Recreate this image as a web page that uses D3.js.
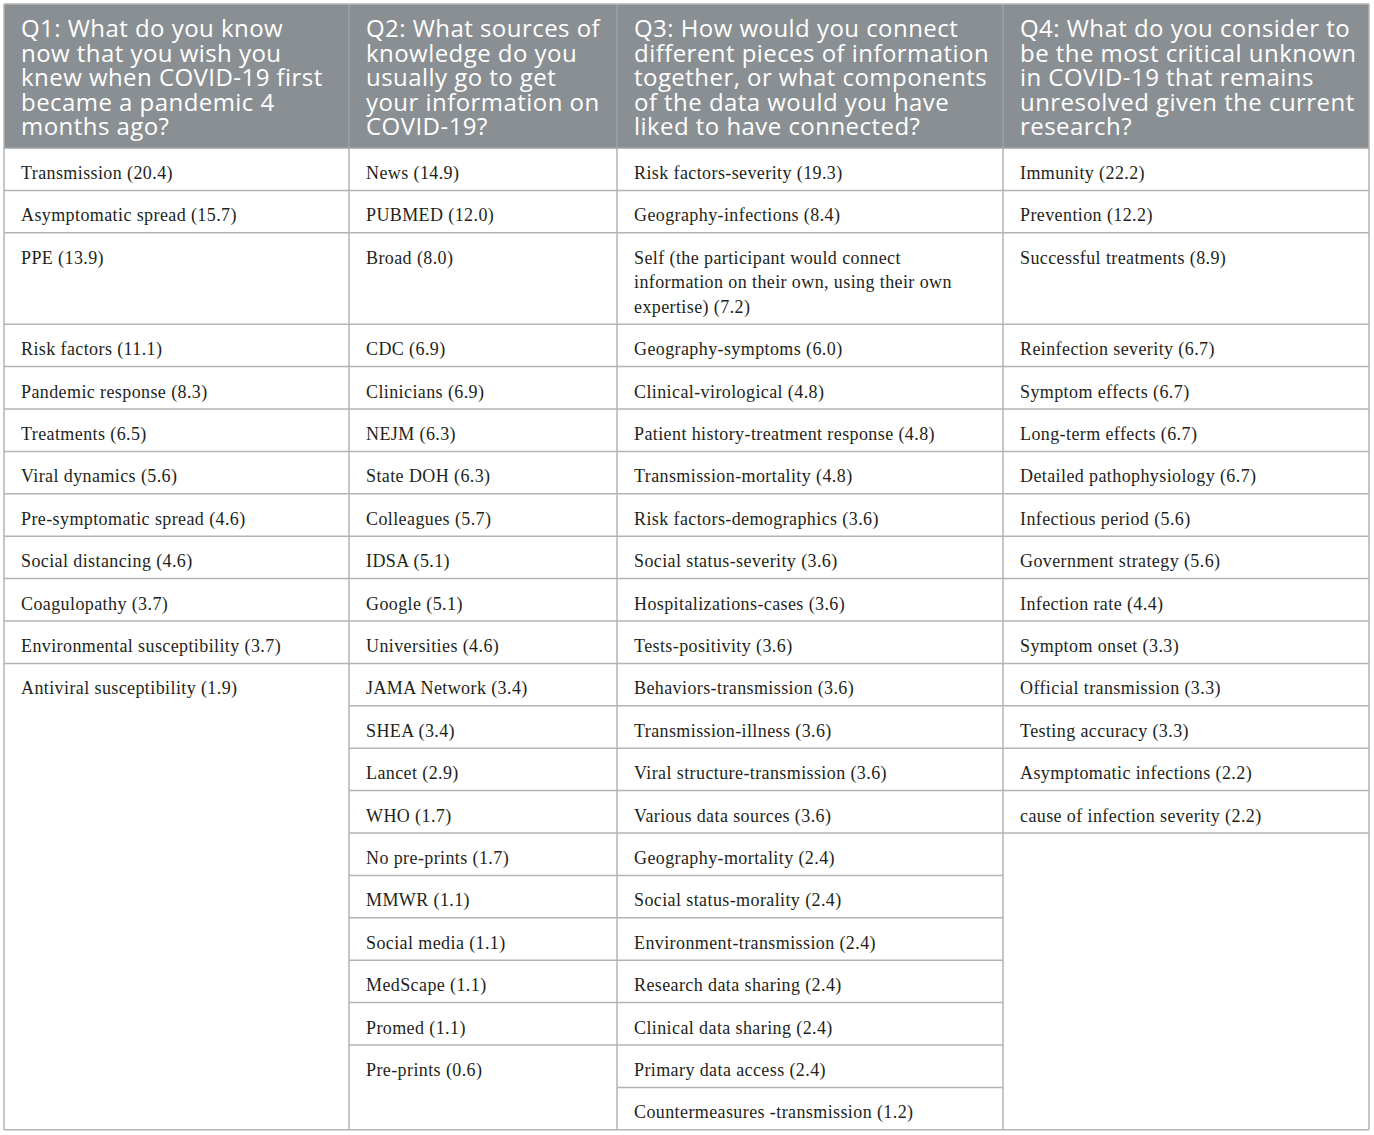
<!DOCTYPE html>
<html>
<head>
<meta charset="utf-8">
<script src="https://cdn.jsdelivr.net/npm/d3@7/dist/d3.min.js"></script>
<style>
  body { margin: 0; background: #fff; }
</style>
</head>
<body>
<svg id="chart"></svg>
<script>
// Column headings, one entry per line as printed
var headerLines = [
  ['Q1: What do you know', 'now that you wish you', 'knew when COVID-19 first', 'became a pandemic 4', 'months ago?'],
  ['Q2: What sources of', 'knowledge do you', 'usually go to get', 'your information on', 'COVID-19?'],
  ['Q3: How would you connect', 'different pieces of information', 'together, or what components', 'of the data would you have', 'liked to have connected?'],
  ['Q4: What do you consider to', 'be the most critical unknown', 'in COVID-19 that remains', 'unresolved given the current', 'research?']
];

var q1Labels = ['Transmission', 'Asymptomatic spread', 'PPE', 'Risk factors', 'Pandemic response',
  'Treatments', 'Viral dynamics', 'Pre-symptomatic spread', 'Social distancing', 'Coagulopathy',
  'Environmental susceptibility', 'Antiviral susceptibility'];
var q1Values = [20.4, 15.7, 13.9, 11.1, 8.3, 6.5, 5.6, 4.6, 4.6, 3.7, 3.7, 1.9];

var q2Labels = ['News', 'PUBMED', 'Broad', 'CDC', 'Clinicians', 'NEJM', 'State DOH', 'Colleagues',
  'IDSA', 'Google', 'Universities', 'JAMA Network', 'SHEA', 'Lancet', 'WHO', 'No pre-prints',
  'MMWR', 'Social media', 'MedScape', 'Promed', 'Pre-prints'];
var q2Values = [14.9, 12.0, 8.0, 6.9, 6.9, 6.3, 6.3, 5.7, 5.1, 5.1, 4.6, 3.4, 3.4, 2.9, 1.7, 1.7,
  1.1, 1.1, 1.1, 1.1, 0.6];

var q3Labels = ['Risk factors-severity', 'Geography-infections',
  'Self (the participant would connect information on their own, using their own expertise)',
  'Geography-symptoms', 'Clinical-virological', 'Patient history-treatment response',
  'Transmission-mortality', 'Risk factors-demographics', 'Social status-severity',
  'Hospitalizations-cases', 'Tests-positivity', 'Behaviors-transmission', 'Transmission-illness',
  'Viral structure-transmission', 'Various data sources', 'Geography-mortality',
  'Social status-morality', 'Environment-transmission', 'Research data sharing',
  'Clinical data sharing', 'Primary data access', 'Countermeasures -transmission'];
var q3Values = [19.3, 8.4, 7.2, 6.0, 4.8, 4.8, 4.8, 3.6, 3.6, 3.6, 3.6, 3.6, 3.6, 3.6, 3.6,
  2.4, 2.4, 2.4, 2.4, 2.4, 2.4, 1.2];

var q4Labels = ['Immunity', 'Prevention', 'Successful treatments', 'Reinfection severity',
  'Symptom effects', 'Long-term effects', 'Detailed pathophysiology', 'Infectious period',
  'Government strategy', 'Infection rate', 'Symptom onset', 'Official transmission',
  'Testing accuracy', 'Asymptomatic infections', 'cause of infection severity'];
var q4Values = [22.2, 12.2, 8.9, 6.7, 6.7, 6.7, 6.7, 5.6, 5.6, 4.4, 3.3, 3.3, 3.3, 2.2, 2.2];

// layout
var width = 1374, height = 1135;
var colEdges = [4, 349, 617, 1003, 1369];
var tableTop = 4, headerBottom = 148;
var padX = 17;
var rowBase = 42.4, lineStep = 24.5;
var bodyFont = '18px "Liberation Serif", "Times New Roman", serif';
var bodySpacing = '0.4px';
var headGrey = '#8a8f93', ruleGrey = '#b3b3b3';

var columns = [
  {labels: q1Labels, values: q1Values, ruleAfterLast: false},
  {labels: q2Labels, values: q2Values, ruleAfterLast: false},
  {labels: q3Labels, values: q3Values, ruleAfterLast: false},
  {labels: q4Labels, values: q4Values, ruleAfterLast: true}
];

var svg = d3.select('#chart').attr('width', width).attr('height', height);

// measure text widths with a hidden node so we can wrap long cells
var probe = svg.append('text').style('font', bodyFont).style('letter-spacing', bodySpacing)
  .attr('visibility', 'hidden');
function measure(str) {
  probe.text(str);
  return probe.node().getComputedTextLength();
}
function wrap(str, maxW) {
  var words = str.split(' '), lines = [], cur = '';
  words.forEach(function (w) {
    var test = cur ? cur + ' ' + w : w;
    if (cur && measure(test) > maxW) { lines.push(cur); cur = w; } else { cur = test; }
  });
  lines.push(cur);
  return lines;
}

columns.forEach(function (col, ci) {
  var maxW = colEdges[ci + 1] - colEdges[ci] - 2 * padX - 8;
  col.cells = col.labels.map(function (l, i) {
    return wrap(l + ' (' + col.values[i].toFixed(1) + ')', maxW);
  });
});
probe.remove();

// shared rows: height set by the tallest cell in each row
var nRows = d3.max(columns, function (c) { return c.cells.length; });
var rowTops = [headerBottom];
for (var r = 0; r < nRows; r++) {
  var lines = d3.max(columns, function (c) { return c.cells[r] ? c.cells[r].length : 1; });
  rowTops.push(rowTops[r] + rowBase + (lines - 1) * lineStep);
}
var tableBottom = rowTops[nRows];

// header band
svg.append('rect')
  .attr('x', colEdges[0]).attr('y', tableTop)
  .attr('width', colEdges[4] - colEdges[0]).attr('height', headerBottom - tableTop)
  .attr('fill', headGrey);

var head = svg.append('g').attr('class', 'header');
headerLines.forEach(function (lines, ci) {
  var t = head.append('text')
    .attr('x', colEdges[ci] + padX)
    .attr('y', 37)
    .attr('fill', '#fff')
    .style('font-family', '"Open Sans", "Noto Sans", sans-serif')
    .style('font-weight', 400)
    .style('font-size', '24px')
    .style('letter-spacing', '0.45px');
  t.selectAll('tspan').data(lines).enter().append('tspan')
    .attr('x', colEdges[ci] + padX)
    .attr('dy', function (d, i) { return i === 0 ? 0 : 24.6; })
    .text(function (d) { return d; });
});

// faint separators inside header
head.selectAll('line.hsep').data(colEdges.slice(1, 4)).enter().append('line')
  .attr('class', 'hsep')
  .attr('x1', function (d) { return d; }).attr('x2', function (d) { return d; })
  .attr('y1', tableTop).attr('y2', headerBottom)
  .attr('stroke', '#a2a6a9').attr('stroke-width', 1.2);

// body text and rules
var body = svg.append('g').attr('class', 'body');
columns.forEach(function (col, ci) {
  var x0 = colEdges[ci], x1 = colEdges[ci + 1];
  var g = body.append('g');

  col.cells.forEach(function (lines, i) {
    var t = g.append('text')
      .attr('x', x0 + padX)
      .attr('y', rowTops[i] + 31)
      .attr('fill', '#231f20')
      .style('font', bodyFont)
      .style('letter-spacing', bodySpacing);
    t.selectAll('tspan').data(lines).enter().append('tspan')
      .attr('x', x0 + padX)
      .attr('dy', function (d, j) { return j === 0 ? 0 : lineStep; })
      .text(function (d) { return d; });
  });

  var nRules = col.cells.length - (col.ruleAfterLast ? 0 : 1);
  var rules = d3.range(nRules).map(function (i) { return rowTops[i + 1]; })
    .filter(function (y) { return y < tableBottom - 1; });
  g.selectAll('line.rule').data(rules).enter().append('line')
    .attr('class', 'rule')
    .attr('x1', x0).attr('x2', x1)
    .attr('y1', function (d) { return d; }).attr('y2', function (d) { return d; })
    .attr('stroke', ruleGrey).attr('stroke-width', 1.5);
});

// vertical column rules in body
body.selectAll('line.vsep').data(colEdges).enter().append('line')
  .attr('class', 'vsep')
  .attr('x1', function (d) { return d; }).attr('x2', function (d) { return d; })
  .attr('y1', function (d, i) { return (i === 0 || i === 4) ? tableTop : headerBottom; })
  .attr('y2', tableBottom)
  .attr('stroke', ruleGrey).attr('stroke-width', 1.5);

// outer frame top and bottom
[tableTop, headerBottom, tableBottom].forEach(function (y, i) {
  svg.append('line')
    .attr('x1', colEdges[0]).attr('x2', colEdges[4])
    .attr('y1', y).attr('y2', y)
    .attr('stroke', i === 1 ? '#9ea2a5' : ruleGrey).attr('stroke-width', 1.5);
});
</script>
</body>
</html>
